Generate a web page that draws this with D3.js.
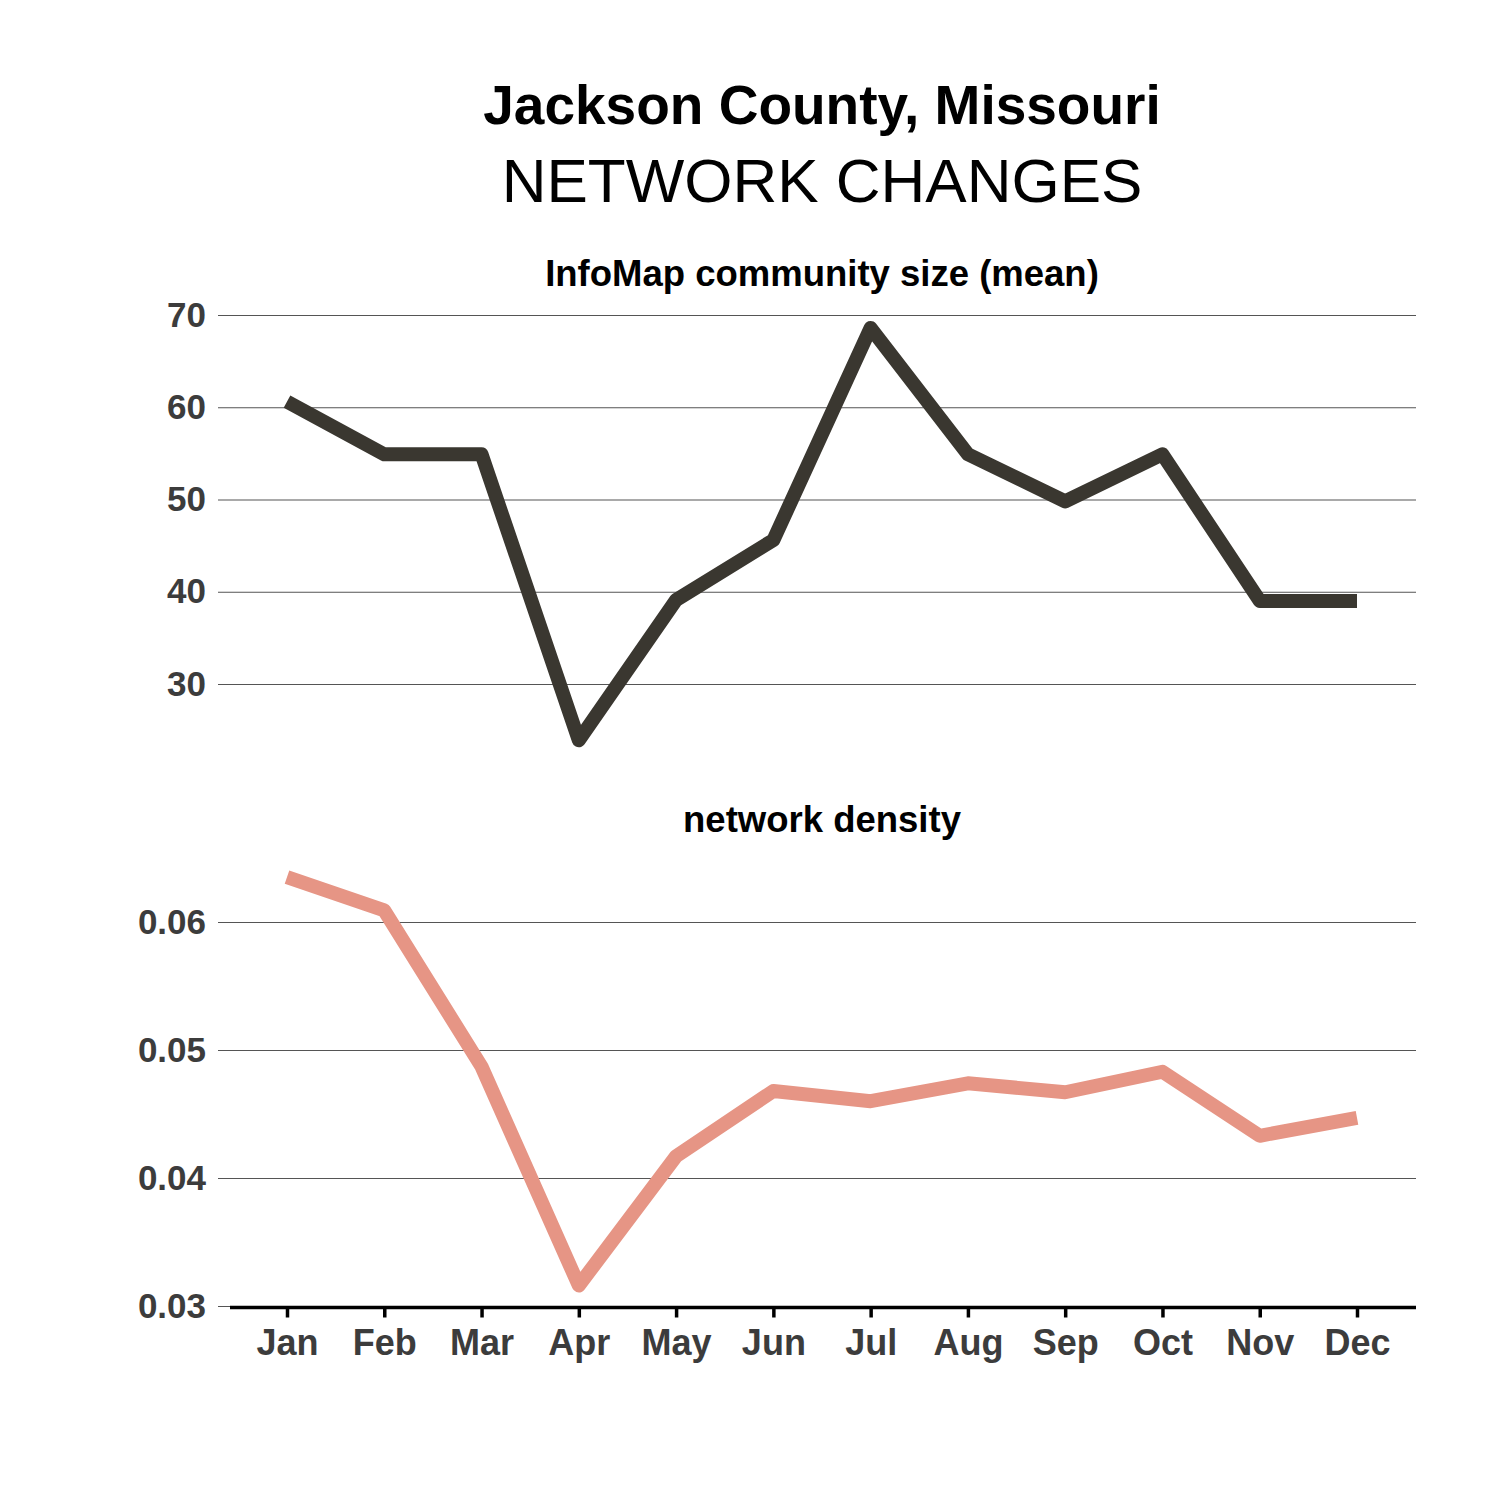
<!DOCTYPE html>
<html>
<head>
<meta charset="utf-8">
<script src="https://cdn.jsdelivr.net/npm/d3@7"></script>
<style>
  body { margin: 0; background: #fff; }
  text { font-family: "Liberation Sans", Arial, sans-serif; }
</style>
</head>
<body>
<div id="chart"></div>
<script>
// data
const months = ['Jan', 'Feb', 'Mar', 'Apr', 'May', 'Jun', 'Jul', 'Aug', 'Sep', 'Oct', 'Nov', 'Dec'];
const communitySize = [60.6, 54.9, 54.9, 23.9, 39.1, 45.6, 68.6, 54.9, 49.8, 54.9, 39.0, 39.0];
const density = [0.0635, 0.0609, 0.0487, 0.0316, 0.0417, 0.0468, 0.0460, 0.0474, 0.0467, 0.0483, 0.0433, 0.0447];
const sizeTicks = [30, 40, 50, 60, 70];
const densityTicks = [0.03, 0.04, 0.05, 0.06];

const width = 1500, height = 1500;
const left = 218, right = 1416;

const svg = d3.select('#chart').append('svg')
    .attr('width', width)
    .attr('height', height);

svg.append('text')
    .attr('x', 822).attr('y', 124)
    .attr('text-anchor', 'middle')
    .style('font-size', '55px').style('font-weight', 'bold')
    .text('Jackson County, Missouri');
svg.append('text')
    .attr('x', 822).attr('y', 202)
    .attr('text-anchor', 'middle')
    .style('font-size', '62px')
    .text('NETWORK CHANGES');

let x = d3.scalePoint()
    .domain(months)
    .range([287, 1357]);

// one panel: gridlines, tick labels, line
const drawPanel = (opts) => {
    let y = d3.scaleLinear()
        .domain(opts.domain)
        .range(opts.range);

    let g = svg.append('g');

    g.append('text')
        .attr('x', 822).attr('y', opts.titleY)
        .attr('text-anchor', 'middle')
        .style('font-size', '36.5px').style('font-weight', 'bold')
        .text(opts.title);

    let axis = d3.axisLeft(y)
        .tickValues(opts.ticks)
        .tickFormat(opts.format)
        .tickSize(-(right - left))
        .tickPadding(12);

    let ax = g.append('g')
        .attr('transform', `translate(${left},0)`)
        .call(axis);
    ax.select('.domain').remove();
    ax.selectAll('line').attr('stroke', '#555').attr('stroke-width', 1.1);
    ax.selectAll('text')
        .attr('fill', '#3c3c3c')
        .style('font-size', '35px').style('font-weight', 'bold')
        .style('font-family', '"Liberation Sans", Arial, sans-serif');

    let line = d3.line()
        .x((d, i) => x(months[i]))
        .y(d => y(d));

    g.append('path')
        .datum(opts.values)
        .attr('fill', 'none')
        .attr('stroke', opts.color)
        .attr('stroke-width', 14)
        .attr('stroke-linejoin', 'round')
        .attr('stroke-linecap', 'butt')
        .attr('d', line);

    return y;
};

drawPanel({
    title: 'InfoMap community size (mean)',
    titleY: 286,
    domain: [30, 70],
    range: [684, 315],
    ticks: sizeTicks,
    format: d3.format('d'),
    values: communitySize,
    color: '#3a3730'
});

let yDensity = drawPanel({
    title: 'network density',
    titleY: 832,
    domain: [0.03, 0.06],
    range: [1306, 922],
    ticks: densityTicks,
    format: d3.format('.2f'),
    values: density,
    color: '#e69585'
});

// bottom x axis
let xAxis = d3.axisBottom(x)
    .tickSize(10)
    .tickPadding(12);

let xg = svg.append('g')
    .attr('transform', `translate(0,${yDensity(0.03) + 1.5})`)
    .call(xAxis);
xg.select('.domain')
    .attr('d', `M230,0H${right}`)
    .attr('stroke', '#000')
    .attr('stroke-width', 3.5);
xg.selectAll('line').attr('stroke', '#000').attr('stroke-width', 3.5);
xg.selectAll('text')
    .attr('fill', '#3c3c3c')
    .style('font-size', '36px').style('font-weight', 'bold')
    .style('font-family', '"Liberation Sans", Arial, sans-serif');
</script>
</body>
</html>
